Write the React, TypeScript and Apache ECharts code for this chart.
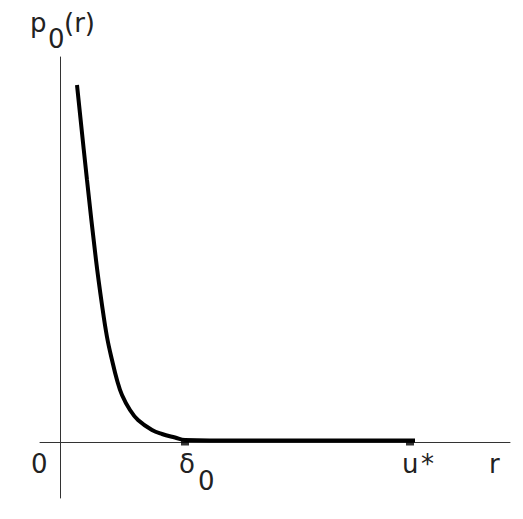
import React, { useEffect, useRef } from "react";
import * as echarts from "echarts";

// curve p0(r): r values and p values (axis units = pixels from origin)
const curveR = [17, 27, 36, 42, 47, 52, 57, 62, 70, 78, 92, 102, 115, 125, 180, 240, 300, 355];
const curveP = [357, 262, 182, 137, 105, 82, 62, 47, 32, 22, 12, 8, 4.5, 2, 1.5, 1.5, 1.5, 1.5];
const dotR = [125, 350];
const dotP = [-1, -1];

const FONT = "DejaVu Sans";
const TXT = "#222";

export default function App() {
  const ref = useRef<HTMLDivElement>(null);
  useEffect(() => {
    const chart = echarts.init(ref.current!, null, { renderer: "svg" });
    const t = (text: string, x: number, y: number, size = 26) => ({
      type: "text",
      x,
      y,
      style: { text, fontSize: size, fontFamily: FONT, fill: TXT, textVerticalAlign: "top" },
    });
    chart.setOption({
      animation: false,
      grid: { left: 40, right: 13, top: 57, bottom: 21 },
      xAxis: {
        type: "value",
        min: -20,
        max: 450,
        axisLine: { onZero: true, lineStyle: { color: "#333", width: 1 } },
        axisTick: { show: false },
        axisLabel: { show: false },
        splitLine: { show: false },
      },
      yAxis: {
        type: "value",
        min: -56,
        max: 385,
        axisLine: { show: true, onZero: true, lineStyle: { color: "#333", width: 1 } },
        axisTick: { show: false },
        axisLabel: { show: false },
        splitLine: { show: false },
      },
      series: [
        {
          type: "line",
          data: curveR.map((r, i) => [r, curveP[i]]),
          smooth: 0.4,
          showSymbol: false,
          lineStyle: { color: "#000", width: 4 },
        },
        {
          type: "scatter",
          data: dotR.map((r, i) => [r, dotP[i]]),
          symbol: "rect",
          symbolSize: [8, 5],
          itemStyle: { color: "#000" },
        },
      ],
      graphic: [
        t("p", 30, 10),
        t("0", 48, 26),
        t("(r)", 64, 10),
        t("0", 31, 451),
        t("δ", 179, 451),
        t("0", 198, 468),
        t("u", 402, 451),
        t("*", 421, 451),
        t("r", 489, 451),
      ],
    });
    return () => chart.dispose();
  }, []);
  return <div ref={ref} style={{ width: 523, height: 519, position: "absolute", left: 0, top: 0 }} />;
}
